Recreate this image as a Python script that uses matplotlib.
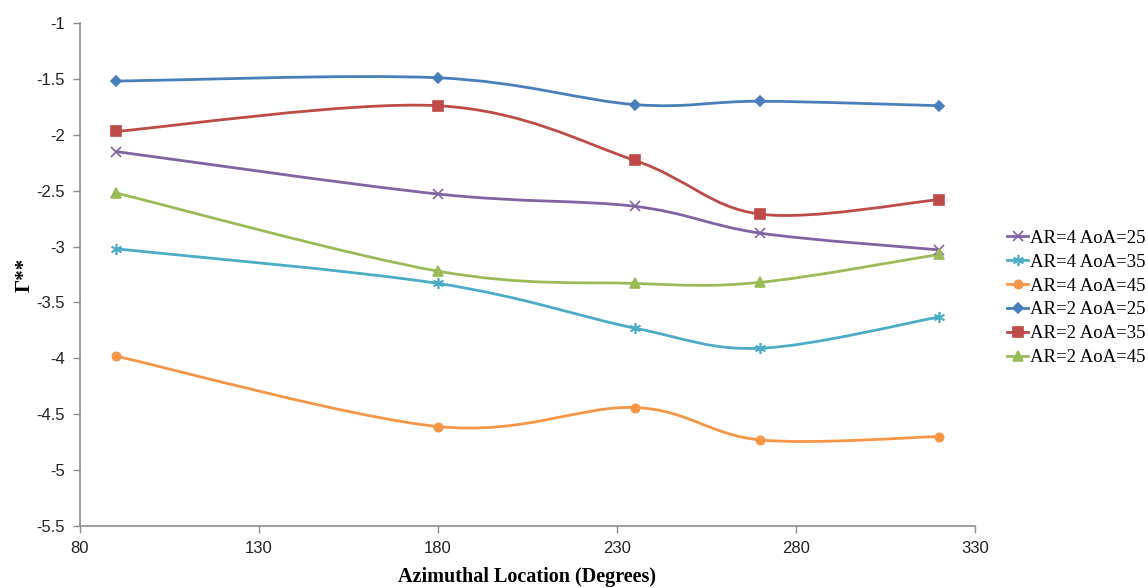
import numpy as np
import matplotlib.pyplot as plt
from matplotlib.path import Path
from matplotlib.patches import PathPatch
from matplotlib.lines import Line2D

# azimuthal locations (degrees)
azimuth = [90, 180, 235, 270, 320]

labels = ["AR=4 AoA=25", "AR=4 AoA=35", "AR=4 AoA=45",
          "AR=2 AoA=25", "AR=2 AoA=35", "AR=2 AoA=45"]
ar4_aoa25 = [-2.15, -2.53, -2.64, -2.88, -3.03]
ar4_aoa35 = [-3.02, -3.33, -3.73, -3.91, -3.63]
ar4_aoa45 = [-3.98, -4.61, -4.44, -4.73, -4.70]
ar2_aoa25 = [-1.52, -1.49, -1.73, -1.70, -1.74]
ar2_aoa35 = [-1.97, -1.74, -2.23, -2.71, -2.58]
ar2_aoa45 = [-2.52, -3.22, -3.33, -3.32, -3.07]
series = [ar4_aoa25, ar4_aoa35, ar4_aoa45, ar2_aoa25, ar2_aoa35, ar2_aoa45]

colors = ["#8064A2", "#4BACC6", "#F79646", "#4A7EBB", "#BE4B48", "#9BBB59"]
markers = ["x", (6, 2, 0), "o", "D", "s", "^"]
msizes = [7, 8, 6, 5, 7, 7]


def smooth_path(xs, ys):
    # Excel-style smoothed line: cubic bezier, control points at 1/6 of neighbour span
    p = np.column_stack([xs, ys]).astype(float)
    pe = np.vstack([p[0], p, p[-1]])
    verts = [p[0]]
    codes = [Path.MOVETO]
    for i in range(len(p) - 1):
        c1 = pe[i + 1] + (pe[i + 2] - pe[i]) / 6
        c2 = pe[i + 2] - (pe[i + 3] - pe[i + 1]) / 6
        verts += [c1, c2, pe[i + 2]]
        codes += [Path.CURVE4] * 3
    return Path(verts, codes)


fig = plt.figure(figsize=(11.48, 5.88), dpi=100)
ax = fig.add_axes([80 / 1148, 1 - 526 / 588, 895 / 1148, 503 / 588])

handles = []
for vals, lab, c, m, ms in zip(series, labels, colors, markers, msizes):
    ax.add_patch(PathPatch(smooth_path(azimuth, vals), fill=False,
                           edgecolor=c, lw=2, zorder=2))
    ax.plot(azimuth, vals, linestyle="none", marker=m, ms=ms, color=c,
            mec=c, mew=1.2, zorder=3)
    handles.append(Line2D([], [], color=c, lw=2, marker=m, ms=ms, mew=1.2, label=lab))

ax.set_xlim(80, 330)
ax.set_ylim(-5.5, -1)
ax.set_xticks(np.arange(80, 331, 50))
ax.set_yticks(np.arange(-5.5, -0.99, 0.5))
ax.set_yticklabels([f"{v:g}" for v in np.arange(-5.5, -0.99, 0.5)])

for s in ["top", "right"]:
    ax.spines[s].set_visible(False)
for s in ["left", "bottom"]:
    ax.spines[s].set_color("#8c8c8c")
    ax.spines[s].set_linewidth(1.2)
ax.tick_params(direction="out", length=5, color="#8c8c8c", width=1,
               labelsize=12, labelcolor="#222222", pad=6)
for t in ax.get_xticklabels() + ax.get_yticklabels():
    t.set_family("Liberation Sans")

ax.set_xlabel("Azimuthal Location (Degrees)", family="Liberation Serif",
              fontweight="bold", fontsize=14.5, labelpad=8)
ax.set_ylabel("Γ**", family="Liberation Serif", fontweight="bold",
              fontsize=15, labelpad=1)

fig.legend(handles=handles, loc="center left", bbox_to_anchor=(1000 / 1148, 1 - 298 / 588),
           frameon=False, prop={"family": "Liberation Serif", "size": 13.5},
           handlelength=1.1, handletextpad=0.1, labelspacing=0.36, borderaxespad=0)

fig.savefig("out.png", dpi=100)
